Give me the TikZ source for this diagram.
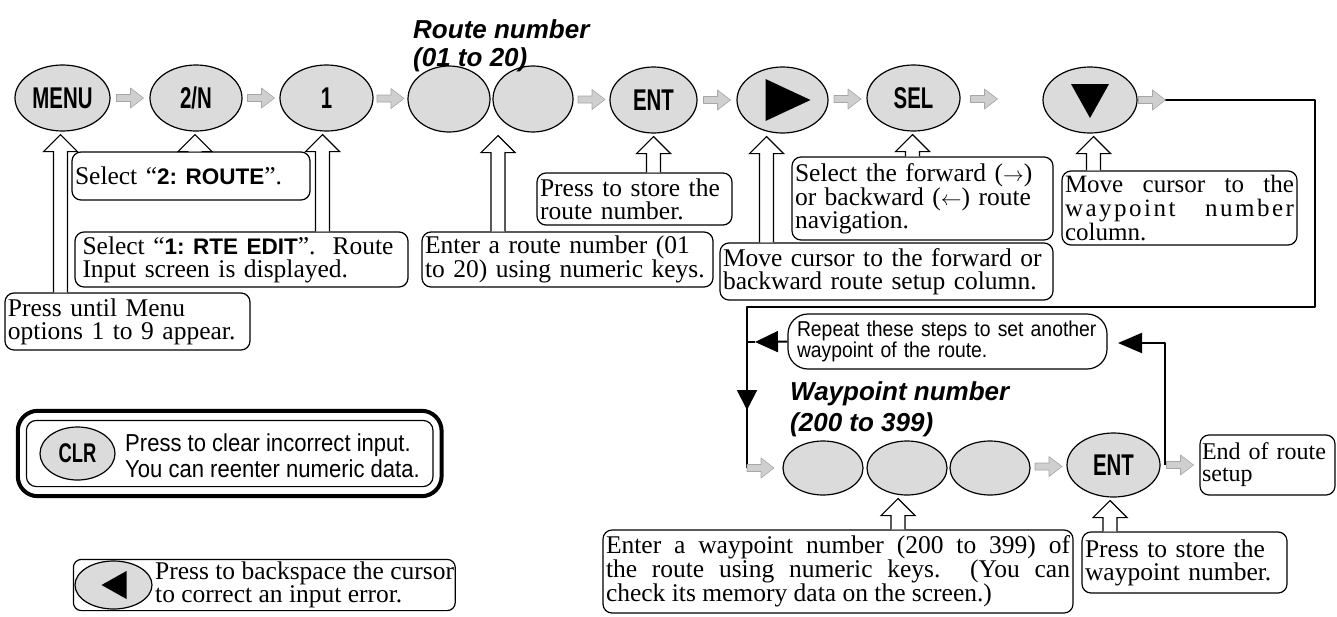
\documentclass[tikz,border=0pt]{standalone}
\usepackage{fontspec}
\setmainfont{Liberation Serif}
\newfontfamily\keyfont{Liberation Sans}[FakeStretch=0.68]
\newfontfamily\nsans{Liberation Sans}[FakeStretch=0.9]
\newfontfamily\hsans{Liberation Sans}
\usetikzlibrary{shapes.geometric,arrows.meta,calc,fit}
\frenchspacing
\hyphenpenalty=10000
\exhyphenpenalty=10000
\newcommand\kb[1]{{\hsans\bfseries\fontsize{22.5}{22.5}\selectfont #1}}
\newcommand\arr[1]{{\fontsize{21}{21}\selectfont$#1$}}
\newcommand\hatarr[1]{\filldraw[hatch] (#1) ++(-13.5,-3.5) -- ++(14,0) -- ++(0,-6.5) -- ++(13,10) -- ++(-13,10) -- ++(0,-6.5) -- ++(-14,0) -- cycle;}
\newcommand\holup[3]{\filldraw[hollow] let \p1=(#2.south), \p2=(#3.north) in
  (#1pt-7pt,\y2) -- (#1pt-7pt,\y1-20pt) -- (#1pt-17pt,\y1-20pt) -- (#1pt,\y1-3pt) -- (#1pt+17pt,\y1-20pt) -- (#1pt+7pt,\y1-20pt) -- (#1pt+7pt,\y2);}
\tikzset{
  key/.style={ellipse, draw, line width=1.2pt, fill=gray!28, inner sep=0pt, minimum height=66pt,
    font=\keyfont\bfseries\fontsize{30}{30}\selectfont},
  box/.style={draw, rounded corners=9pt, line width=1.2pt, inner xsep=3pt, inner ysep=2pt,
    align=left, font=\fontsize{25.5}{23}\selectfont},
  conn/.style={line width=2pt},
  hatch/.style={draw=gray!70, fill=gray!38, line width=0.6pt},
  hollow/.style={draw, fill=white, line width=1.2pt, line join=miter},
  head/.style={align=left, inner sep=0pt, anchor=north west}
}
\begin{document}
\begin{tikzpicture}[x=1pt, y=-1pt, line join=round]
\useasboundingbox (0,0) rectangle (1337,616);

% top row keys
\node[key, minimum width=95pt] (menu) at (62.5,98) {MENU};
\node[key, minimum width=92pt] (twon) at (196,98) {2/N};
\node[key, minimum width=93pt] (one) at (326.5,98) {1};
\node[key, minimum width=82pt] (r1) at (449,99) {};
\node[key, minimum width=80pt] (r2) at (533,99) {};
\node[key, minimum width=87pt] (ent) at (653.5,100) {ENT};
\node[key, minimum width=91pt] (play) at (782.5,100) {};
\node[key, minimum width=93pt] (sel) at (913.5,98) {SEL};
\node[key, minimum width=94pt] (down) at (1090,100) {};
\fill ($(play.center)+(-17,-21)$) -- ++(0,42) -- ++(45,-21) -- cycle;
\fill ($(down.center)+(-19,-16)$) -- ++(38,0) -- ++(-19,34) -- cycle;

\node[head, font=\hsans\bfseries\itshape\fontsize{26}{28}\selectfont] (rnum) at (413,19) {Route number\\(01 to 20)};

% hatched arrows top
\hatarr{$(menu.east)!.5!(twon.west)$}
\hatarr{$(twon.east)!.5!(one.west)$}
\hatarr{$(one.east)!.5!(r1.west)$}
\hatarr{$(r2.east)!.5!(ent.west)$}
\hatarr{$(ent.east)!.5!(play.west)$}
\hatarr{$(play.east)!.5!(sel.west)$}
\hatarr{984,99}

% boxes top area
\node[box, text width=232pt, minimum height=48pt] (sel2) at (191,176) {Select “\kb{2: ROUTE}”.};
\node[box, text width=318pt, inner xsep=7.5pt, minimum height=55pt] (rte) at (241.5,259.5) {Select “\kb{1: RTE EDIT}”.~ Route\\Input screen is displayed.};
\node[box, text width=239pt, minimum height=57pt] (pum) at (127.5,321.5) {Press until Menu\\options 1 to 9 appear.};
\node[box, text width=285pt, minimum height=55pt] (erte) at (567.5,259.5) {Enter a route number (01\\to 20) using numeric keys.};
\node[box, text width=189pt, minimum height=52pt] (store) at (634.5,199) {Press to store the\\route number.};
\node[box, text width=327pt, minimum height=57pt] (mvfwd) at (886.5,271.5) {Move cursor to the forward or\\backward route setup column.};
\node[box, text width=255pt, minimum height=83pt] (selfwd) at (922.5,198.5) {Select the forward (\arr{\rightarrow})\\or backward (\arr{\leftarrow}) route\\navigation.};
\node[box, text width=229pt, minimum height=74pt, inner ysep=1pt, font=\fontsize{25}{24}\selectfont] (mvwp) at (1179.5,208) {Move\hfill cursor\hfill to\hfill the\\{\addfontfeature{LetterSpace=10}waypoint}\hfill{\addfontfeature{LetterSpace=10}number}\\column.};

% hollow up arrows
\holup{60.5}{menu}{pum}
\holup{195}{twon}{sel2}
\holup{322.5}{one}{rte}
\holup{498}{r1}{erte}
\holup{653.5}{ent}{store}
\holup{766.5}{play}{mvfwd}
\holup{912.5}{sel}{selfwd}
\holup{1093.5}{down}{mvwp}

% loop connector
\coordinate (c1) at (1315,100);
\coordinate (c2) at (1315,307);
\coordinate (c3) at (747,307);
\coordinate (c4) at (747,410);
\coordinate (c5) at (747,468);
\draw[conn] (down.east) -- (c1) -- (c2) -- (c3) -- (c5);
\draw[conn, -{Triangle[length=20pt,width=20pt]}] (c3) -- (c4);
\hatarr{1152,100}

% repeat box
\node[box, rounded corners=20pt, text width=301pt, inner xsep=9pt, minimum height=55pt, font=\nsans\fontsize{21.5}{21}\selectfont] (rep) at (947.5,341.5) {Repeat these steps to set another\\waypoint of the route.};
\coordinate (c6a) at (755,342);
\coordinate (c6) at (747,342);
\draw[conn, -{Triangle[length=23pt,width=21pt]}] (rep.west) -- (c6a);
\draw[conn] (c6a) -- (c6);

\node[head, font=\hsans\bfseries\itshape\fontsize{26}{31}\selectfont] (wnum) at (790,381) {Waypoint number\\(200 to 399)};

% bottom row
\node[key, minimum width=80pt, minimum height=54pt] (w1) at (823,468) {};
\node[key, minimum width=80pt, minimum height=54pt] (w2) at (907,468) {};
\node[key, minimum width=80pt, minimum height=54pt] (w3) at (990,468) {};
\node[key, minimum width=93pt, minimum height=64pt] (ent2) at (1113.5,465) {ENT};
\node[box, text width=131pt, inner xsep=2pt, minimum height=60pt, font=\fontsize{24}{22}\selectfont] (end) at (1267.5,465) {End of route\\setup};
\hatarr{760.5,468}
\hatarr{$(w3.east)!.5!(ent2.west)$}
\hatarr{$(ent2.east)!.5!(end.west)$}

\coordinate (d1) at (1165,465);
\coordinate (d2) at (1165,343);
\coordinate (d3) at (1118,343);
\draw[conn, -{Triangle[length=24pt,width=20pt]}] (d1) -- (d2) -- (d3);

\node[box, text width=464pt, minimum height=83pt, align=justify] (ewp) at (838,571.5) {Enter a waypoint number (200 to 399) of\linebreak the route using numeric keys.~ (You can\linebreak check its memory data on the screen.)};
\node[box, text width=199pt, minimum height=61pt] (swp) at (1184.5,562.5) {Press to store the\\waypoint number.};
\holup{898}{w2}{ewp}
\holup{1110}{ent2}{swp}

% CLR box
\node[key, minimum width=75pt, minimum height=53pt, font=\keyfont\bfseries\fontsize{27}{27}\selectfont] (clrkey) at (77.5,453.5) {CLR};
\node[align=left, inner sep=0pt, anchor=west, font=\nsans\fontsize{24.5}{26}\selectfont] (clrtext) at (125,456) {Press to clear incorrect input.\\You can reenter numeric data.};
\node[draw, rounded corners=10pt, line width=1.2pt, fit=(clrkey)(clrtext), inner xsep=13pt, inner ysep=6pt] (clrin) {};
\node[draw, rounded corners=20pt, line width=4pt, fit=(clrin), inner xsep=8pt, inner ysep=9pt] (clrout) {};

% backspace box
\node[key, minimum width=77pt, minimum height=48pt] (bspkey) at (113.5,585) {};
\fill ($(bspkey.center)+(-12,0)$) -- ++(25,-14) -- ++(0,28) -- cycle;
\node[align=left, inner sep=0pt, anchor=west, font=\fontsize{25.5}{23}\selectfont] (bsptext) at (155,585) {Press to backspace the cursor\\to correct an input error.};
\node[draw, rounded corners=8pt, line width=1.2pt, fit=(bspkey)(bsptext), inner xsep=1pt, inner ysep=1pt] (bsp) {};
\end{tikzpicture}
\end{document}
